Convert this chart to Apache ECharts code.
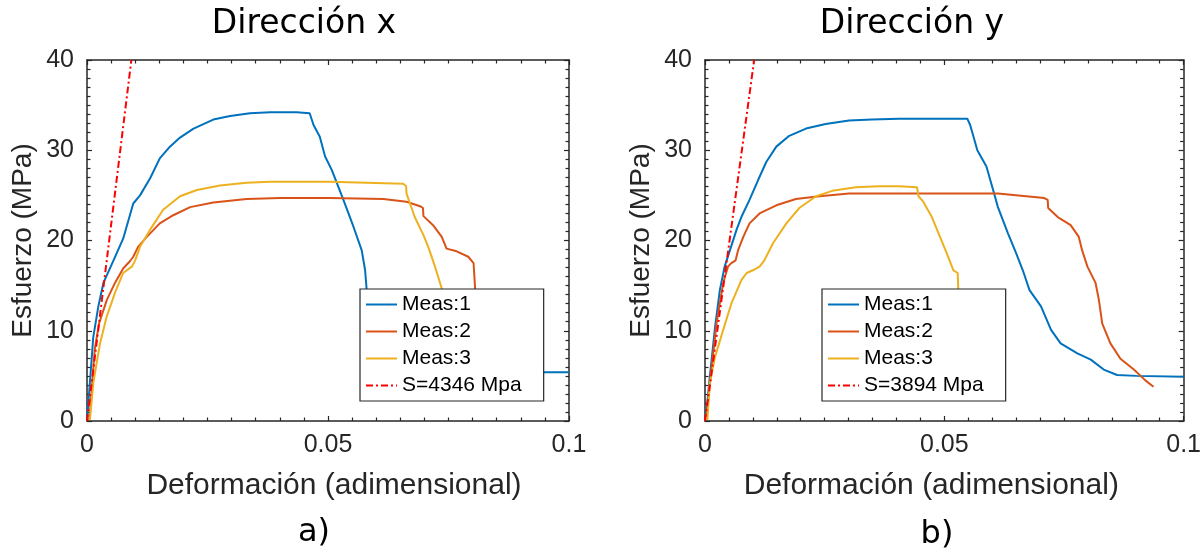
<!DOCTYPE html>
<html>
<head>
<meta charset="utf-8">
<script src="https://cdn.jsdelivr.net/npm/echarts@6/dist/echarts.min.js"></script>
<style>
  html, body { margin: 0; padding: 0; background: #ffffff; }
  #chart { width: 1204px; height: 552px; }
</style>
</head>
<body>
<div id="chart"></div>
<script>
// Stress–strain curves: strain (dimensionless), stress (MPa)

// Panel a) — Dirección x
const dirX_meas1 = [[0,0],[0.0013,9.3],[0.00235,12.7],[0.0034,15.3],[0.0055,17.8],[0.0075,20.2],[0.0096,24.1],[0.011,25.0],[0.0131,26.9],[0.0151,29.1],[0.0172,30.4],[0.0193,31.4],[0.0221,32.4],[0.0262,33.4],[0.0297,33.8],[0.0338,34.1],[0.038,34.2],[0.0435,34.2],[0.0462,34.1],[0.0466,33.9],[0.047,32.8],[0.0483,31.5],[0.0494,29.3],[0.0508,27.8],[0.0532,24.5],[0.0553,21.5],[0.057,18.9],[0.0577,16.7],[0.058,14.7],[0.0585,10.0],[0.059,5.6],[0.062,5.4],[0.1,5.4]];
const dirX_meas2 = [[0.0005,0.1],[0.0016,7.9],[0.0025,10.8],[0.0041,13.4],[0.0058,15.3],[0.0075,16.9],[0.0089,17.7],[0.0096,18.2],[0.0106,19.3],[0.0124,20.4],[0.0151,21.9],[0.0179,22.8],[0.0214,23.7],[0.0262,24.2],[0.0331,24.6],[0.04,24.7],[0.0504,24.7],[0.0615,24.6],[0.0663,24.3],[0.0691,23.8],[0.0697,23.6],[0.0698,22.7],[0.0718,21.7],[0.0736,20.4],[0.0746,19.1],[0.0767,18.8],[0.0791,18.2],[0.0802,17.5],[0.0805,14.9],[0.081,9.0],[0.0812,5.5]];
const dirX_meas3 = [[0.0006,0.1],[0.0013,4.2],[0.0027,8.6],[0.0041,11.6],[0.0058,14.2],[0.0075,16.4],[0.0093,17.1],[0.01,17.8],[0.011,19.3],[0.0131,21.2],[0.0158,23.4],[0.0193,24.9],[0.0228,25.6],[0.0276,26.1],[0.0331,26.4],[0.038,26.5],[0.0504,26.5],[0.0656,26.3],[0.0662,26.0],[0.0663,25.2],[0.068,22.6],[0.0698,20.6],[0.0708,19.3],[0.0722,17.1],[0.0736,14.7],[0.075,11.0]];
const modulusX = 4346; // MPa

// Panel b) — Dirección y
const dirY_meas1 = [[0.0002,0.5],[0.001,4.9],[0.0021,10.4],[0.0031,14.5],[0.0041,17.1],[0.0052,18.9],[0.0066,21.2],[0.0076,22.6],[0.0093,24.5],[0.0111,26.7],[0.0128,28.7],[0.0149,30.4],[0.0176,31.6],[0.0211,32.4],[0.0252,32.9],[0.0301,33.3],[0.0349,33.4],[0.0405,33.5],[0.0548,33.5],[0.0554,32.8],[0.056,31.7],[0.0569,30.0],[0.0588,28.2],[0.0602,25.6],[0.0612,23.7],[0.0633,20.8],[0.065,18.6],[0.0664,16.7],[0.0678,14.5],[0.0702,12.7],[0.0723,10.1],[0.0743,8.6],[0.0778,7.5],[0.0806,6.8],[0.0833,5.7],[0.0861,5.1],[0.0902,5.0],[0.1,4.9]];
const dirY_meas2 = [[0.0003,0.5],[0.0014,6.0],[0.0024,10.8],[0.0038,15.3],[0.0048,17.1],[0.0055,17.5],[0.0064,17.8],[0.0069,18.9],[0.008,20.4],[0.0093,21.9],[0.0114,23.0],[0.0149,23.9],[0.019,24.6],[0.0239,24.9],[0.0301,25.2],[0.037,25.2],[0.0612,25.2],[0.0709,24.7],[0.0716,24.5],[0.0717,23.6],[0.0737,22.6],[0.0764,21.7],[0.0781,20.4],[0.0788,18.9],[0.0799,17.1],[0.0816,15.3],[0.0823,13.4],[0.083,10.8],[0.0847,8.6],[0.0868,6.9],[0.0896,5.7],[0.092,4.5],[0.0937,3.8]];
const dirY_meas3 = [[0.0005,0.1],[0.001,4.2],[0.0021,7.1],[0.0038,10.1],[0.0055,13.0],[0.0076,15.6],[0.0087,16.4],[0.01,16.7],[0.0114,17.1],[0.0124,17.8],[0.0142,19.7],[0.017,21.9],[0.0197,23.6],[0.0232,24.9],[0.0266,25.5],[0.0315,25.9],[0.0363,26.0],[0.0405,26.0],[0.0443,25.9],[0.0446,24.9],[0.0456,24.3],[0.0474,22.6],[0.0491,20.4],[0.0505,18.6],[0.0519,16.7],[0.0528,16.4],[0.0529,14.9],[0.0531,12.0]];
const modulusY = 3894; // MPa

// Axis setup and labels
const xTicks = { min: 0, max: 0.1, interval: 0.05 };
const yTicks = { min: 0, max: 40, interval: 10 };
const panelTitles = ['Dirección x', 'Dirección y'];
const panelTags = ['a)', 'b)'];
const xAxisName = 'Deformación (adimensional)';
const yAxisName = 'Esfuerzo (MPa)';
const measNames = ['Meas:1', 'Meas:2', 'Meas:3'];

const colors = ['#0072BD', '#D95319', '#EDB120'];
const fitColor = '#FF0000';
const axisColor = '#262626';
const sansFont = 'Liberation Sans';

// Linear elastic fit: a straight line through the origin with slope S
function elasticLine(S) {
  return [[0, 0], [yTicks.max / S, yTicks.max]];
}

function makeXAxis(gi, bottom, namePadding) {
  return {
    type: 'value', gridIndex: gi, position: bottom ? 'bottom' : 'top',
    min: xTicks.min, max: xTicks.max, interval: xTicks.interval,
    name: bottom ? xAxisName : '', nameLocation: 'middle', nameGap: 50,
    nameTextStyle: { fontFamily: sansFont, fontSize: 30, color: axisColor, padding: namePadding || 0 },
    axisLine: { show: true, onZero: false, lineStyle: { color: axisColor, width: 1.5 } },
    axisTick: { show: true, inside: true, length: 5, lineStyle: { color: axisColor, width: 1.2 } },
    minorTick: { show: true, splitNumber: 10, length: 3.5, lineStyle: { color: axisColor, width: 1.2 } },
    axisLabel: { show: bottom, margin: 12, fontFamily: sansFont, fontSize: 25, color: axisColor },
    splitLine: { show: false }, minorSplitLine: { show: false }
  };
}

function makeYAxis(gi, left) {
  return {
    type: 'value', gridIndex: gi, position: left ? 'left' : 'right',
    min: yTicks.min, max: yTicks.max, interval: yTicks.interval,
    name: left ? yAxisName : '', nameLocation: 'middle', nameGap: 50,
    nameTextStyle: { fontFamily: sansFont, fontSize: 28, color: axisColor },
    axisLine: { show: true, onZero: false, lineStyle: { color: axisColor, width: 1.5 } },
    axisTick: { show: true, inside: true, length: 5, lineStyle: { color: axisColor, width: 1.2 } },
    minorTick: { show: true, splitNumber: 10, length: 3.5, lineStyle: { color: axisColor, width: 1.2 } },
    axisLabel: { show: left, margin: 13, fontFamily: sansFont, fontSize: 25, color: axisColor },
    splitLine: { show: false }, minorSplitLine: { show: false }
  };
}

function curve(name, data, color, gi) {
  return {
    type: 'line', name: name, data: data,
    xAxisIndex: gi * 2, yAxisIndex: gi * 2,
    showSymbol: false, symbol: 'none', clip: true,
    lineStyle: { color: color, width: 2 }, itemStyle: { color: color },
    z: 3
  };
}

function fitLine(S, gi) {
  return {
    type: 'line', name: 'S=' + S + ' Mpa', data: elasticLine(S),
    xAxisIndex: gi * 2, yAxisIndex: gi * 2,
    showSymbol: false, symbol: 'none', clip: true,
    lineStyle: { color: fitColor, width: 2, type: [7, 3, 2, 3] }, itemStyle: { color: fitColor },
    z: 4
  };
}

function makeLegend(left, S) {
  return {
    left: left, top: 289, orient: 'vertical', selectedMode: false,
    data: measNames.concat(['S=' + S + ' Mpa']),
    backgroundColor: '#ffffff', borderColor: axisColor, borderWidth: 1.2,
    padding: [5, 22, 5, 5], itemGap: 6, itemWidth: 31, itemHeight: 12,
    // keep only the line sample in each legend key
    itemStyle: { color: 'rgba(0,0,0,0)', borderWidth: 0, opacity: 0 },
    lineStyle: { width: 2 },
    textStyle: { fontFamily: sansFont, fontSize: 21, color: '#000000', lineHeight: 21 },
    z: 10
  };
}

const gridBoxes = [
  { left: 87, top: 60, width: 482, height: 361 },
  { left: 705, top: 60, width: 482, height: 361 }
];

const option = {
  animation: false,
  backgroundColor: '#ffffff',
  grid: gridBoxes,
  xAxis: [
    makeXAxis(0, true, [0, 0, 0, 12]), makeXAxis(0, false),
    makeXAxis(1, true, [0, 26, 0, 0]), makeXAxis(1, false)
  ],
  yAxis: [makeYAxis(0, true), makeYAxis(0, false), makeYAxis(1, true), makeYAxis(1, false)],
  legend: [makeLegend(360, modulusX), makeLegend(822, modulusY)],
  series: [
    curve(measNames[0], dirX_meas1, colors[0], 0),
    curve(measNames[1], dirX_meas2, colors[1], 0),
    curve(measNames[2], dirX_meas3, colors[2], 0),
    fitLine(modulusX, 0),
    curve(measNames[0], dirY_meas1, colors[0], 1),
    curve(measNames[1], dirY_meas2, colors[1], 1),
    curve(measNames[2], dirY_meas3, colors[2], 1),
    fitLine(modulusY, 1)
  ],
  graphic: [
    { type: 'text', x: 304, y: 24, style: { text: panelTitles[0], font: '33px "DejaVu Sans"', fill: '#000000', textAlign: 'center', textVerticalAlign: 'middle' } },
    { type: 'text', x: 912, y: 24, style: { text: panelTitles[1], font: '33px "DejaVu Sans"', fill: '#000000', textAlign: 'center', textVerticalAlign: 'middle' } },
    { type: 'text', x: 314, y: 533, style: { text: panelTags[0], font: '32px "DejaVu Sans"', fill: '#000000', textAlign: 'center', textVerticalAlign: 'middle' } },
    { type: 'text', x: 937, y: 535, style: { text: panelTags[1], font: '32px "DejaVu Sans"', fill: '#000000', textAlign: 'center', textVerticalAlign: 'middle' } }
  ]
};

const chart = echarts.init(document.getElementById('chart'), null, { renderer: 'canvas' });
chart.setOption(option);
</script>
</body>
</html>
